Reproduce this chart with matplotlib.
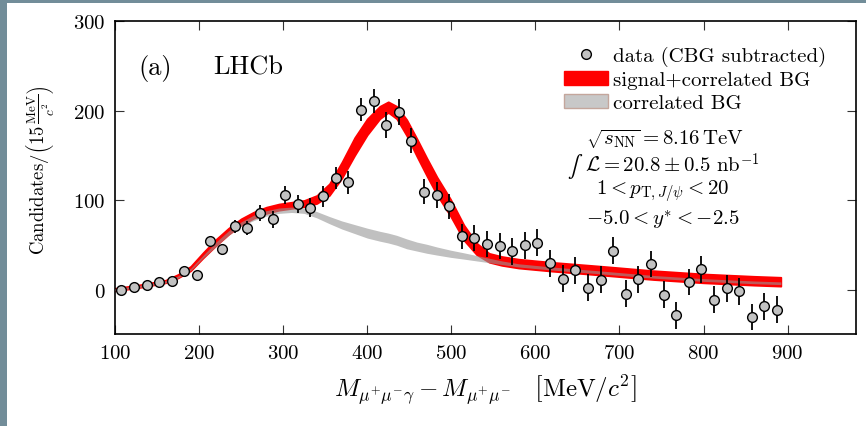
import numpy as np
import matplotlib
matplotlib.use("Agg")
import matplotlib.pyplot as plt
from matplotlib.patches import Patch, Rectangle
from matplotlib.lines import Line2D

plt.rcParams.update({
    "font.family": "serif",
    "font.serif": ["cmr10"],
    "mathtext.fontset": "cm",
    "axes.formatter.use_mathtext": True,
})

# 15 MeV bins of the mass difference
bin_centres = np.arange(107.5, 895.0, 15.0)

# background-subtracted candidates per bin and their uncertainties
candidates = [0, 3, 6, 8.5, 10.5, 21.5, 16.5, 54.5, 45.5, 71,
              69.5, 85.5, 79, 106, 96, 92, 104.5, 125, 120, 201,
              210.5, 184, 198.5, 166.5, 109.5, 106, 93.5, 60, 58, 51,
              49, 43, 50, 53, 30, 12.5, 22, 2.5, 11.5, 44,
              -4, 12, 29, -5, -28, 9, 23, -11, 2, -1.5,
              -30, -18, -22]
candidates_err = [1.5, 2, 2.5, 3, 3.5, 4, 4.5, 5, 6, 7,
                  8, 9, 9.5, 10, 10.5, 11, 11.5, 12, 12.5, 13,
                  13.5, 14, 14, 14, 14, 14, 14, 14, 14.5, 14.5,
                  14.5, 15, 15, 15, 15, 15, 15, 15, 15, 15,
                  15, 15, 15, 15, 15, 15, 15, 15, 15, 15,
                  15, 15, 15]

# fit result: signal + correlated background, and correlated background alone
fit_x = [100, 115, 130, 145, 160, 175, 190, 205, 220, 235,
         250, 265, 280, 295, 310, 325, 340, 355, 370, 385,
         400, 415, 425, 435, 447, 459, 471, 483, 499, 515,
         530, 545, 560, 580, 620, 680, 740, 800, 860, 892]
sig_bg = [0.5, 2.5, 4.5, 7, 9.5, 15.5, 24, 39, 53, 65.5,
          76, 83.5, 89, 92.5, 94.5, 96.5, 101, 112, 134, 160,
          182, 198, 204, 198, 181, 159, 137, 116, 92, 64,
          46, 36, 32.5, 29.5, 26, 21.5, 16.7, 13, 10.4, 9.3]
sig_bg_err = [1.5, 1.5, 1.5, 1.5, 1.5, 2, 2.5, 3, 3.5, 3.5,
              3.5, 3.5, 3.5, 3.5, 3.5, 3.5, 4.5, 6.5, 9, 10,
              9, 7, 6, 7, 9, 10, 10, 10, 9.5, 8.5,
              6.5, 5, 5, 5, 5, 5, 5, 5, 5, 5]
corr_bg = [0.3, 2.2, 4.2, 6.6, 9, 14.6, 23, 37.5, 51, 63.5,
           73.5, 80.5, 85.5, 88.5, 89.5, 88.5, 84, 78, 72.5, 68,
           63.5, 60, 58, 55.5, 51.5, 48.5, 46, 43.5, 40.5, 38,
           35.5, 33, 30.5, 27.5, 24, 19.5, 14.8, 11.2, 8.6, 7.6]
corr_bg_err = [1.2, 1.2, 1.2, 1.2, 1.2, 1.2, 1.2, 1.5, 2.5, 2.5,
               2.5, 3, 3, 3, 3, 3, 3.5, 4, 4.5, 5,
               5.5, 5.5, 5.5, 5.5, 5.5, 5, 5, 4.5, 4, 3.5,
               3, 2.5, 2, 1.8, 1.7, 1.6, 1.5, 1.5, 1.5, 1.5]

legend_labels = ["data (CBG subtracted)", "signal+correlated BG", "correlated BG"]
info_lines = [r"$\sqrt{s_{\mathrm{NN}}} = 8.16\,\mathrm{TeV}$",
              r"$\mathcal{L} = 20.8 \pm 0.5\ \mathrm{nb}^{-1}$",
              r"$1 < p_{\mathrm{T},J/\psi} < 20$",
              r"$-5.0 < y^{*} < -2.5$"]

W, H = 866, 427
fig = plt.figure(figsize=(W / 100, H / 100), dpi=100, facecolor="#728d99")
fig.patches.append(Rectangle((7 / W, 0), 1, (H - 4) / H, transform=fig.transFigure,
                             facecolor="white", edgecolor="none", zorder=-10))
ax = fig.add_axes([115 / W, 1 - 335 / H, (855.7 - 115) / W, 313 / H])
ax.set_zorder(1)

fx = np.array(fit_x, dtype=float)
sb = np.array(sig_bg); sbe = np.array(sig_bg_err)
cb = np.array(corr_bg); cbe = np.array(corr_bg_err)
ax.fill_between(fx, sb - sbe, sb + sbe, facecolor="#ff0000", edgecolor="#ff0000",
                lw=1.2, zorder=2)
ax.fill_between(fx, cb - cbe, cb + cbe, color="#969696", alpha=0.6, lw=0, zorder=3)

ax.errorbar(bin_centres, candidates, yerr=candidates_err, fmt="o", ms=7,
            mfc="#c2c2c2", mec="black", mew=1.0, ecolor="black",
            elinewidth=1.3, capsize=0, zorder=5)

ax.set_xlim(100, 981)
ax.set_ylim(-49, 300)
ax.set_xticks([100, 200, 300, 400, 500, 600, 700, 800, 900])
ax.set_yticks([0, 100, 200, 300])
ax.tick_params(direction="in", length=6.5, width=0.8, color="#333333",
               top=True, right=True, labelsize=15, pad=7)
for s in ax.spines.values():
    s.set_linewidth(1.2)

ax.set_xlabel(r"$M_{\mu^{+}\mu^{-}\gamma} - M_{\mu^{+}\mu^{-}}\quad\left[\mathrm{MeV}/c^{2}\right]$",
              fontsize=18)
ax.xaxis.set_label_coords(0.5, -(373 - 335) / 313)
ax.set_ylabel(r"$\mathrm{Candidates}/\left(15\,\frac{\mathrm{MeV}}{c^{2}}\right)$", fontsize=13.5)
ax.yaxis.set_label_coords(-(115 - 56) / 740.7, (335 - 170) / 313)

ax.text(0.031, 0.853, "(a)", transform=ax.transAxes, fontsize=19, va="center", ha="left")
ax.text(0.132, 0.853, "LHCb", transform=ax.transAxes, fontsize=19, va="center", ha="left")

handles = [Line2D([], [], ls="none", marker="o", ms=7, mfc="#c2c2c2", mec="black", mew=1.0),
           Patch(facecolor="#ff0000", edgecolor="#ff0000"),
           Patch(facecolor="#c8c8c8", edgecolor="#c4a69c")]
ax.legend(handles, legend_labels, loc="upper right", bbox_to_anchor=(0.96, 0.92),
          frameon=False, fontsize=15, handlelength=2.1, handletextpad=0.25,
          labelspacing=0.22, borderaxespad=0, borderpad=0)

info_x = [(665 - 115) / 740.7, (672 - 115) / 740.7, (663 - 115) / 740.7, (663 - 115) / 740.7]
for line, xc, yc in zip(info_lines, info_x, [139, 165, 192, 220]):
    t = ax.text(xc, (335 - yc) / 313, line, transform=ax.transAxes,
                fontsize=15, ha="center", va="center")
    if line.startswith(r"$\mathcal{L}"):
        ax.annotate(r"$\int$", xy=(0, 0.42), xycoords=t, xytext=(-1, 0),
                    textcoords="offset points", ha="right", va="center",
                    fontsize=16, math_fontfamily="stix")

fig.savefig("out.png", dpi=100, facecolor=fig.get_facecolor())
